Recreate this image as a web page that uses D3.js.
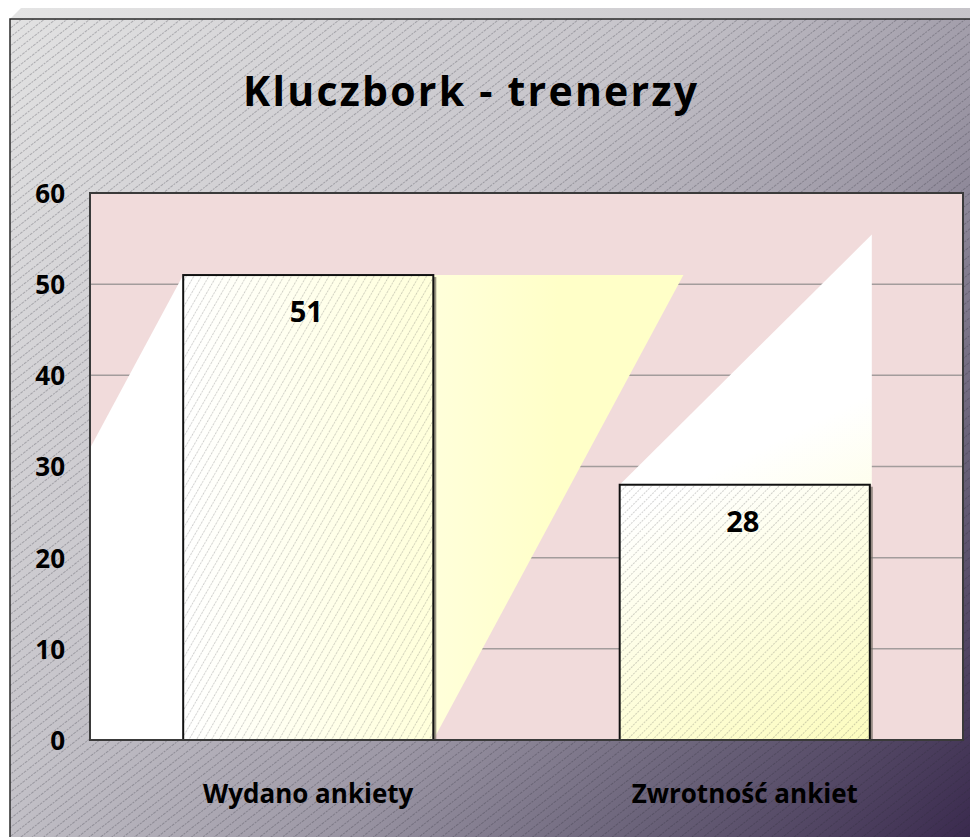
<!DOCTYPE html>
<html>
<head>
<meta charset="utf-8">
<script src="https://cdn.jsdelivr.net/npm/d3@7"></script>
<style>
  body { margin: 0; background: #fff; }
  svg { display: block; }
  text { font-family: "Open Sans", "DejaVu Sans", sans-serif; font-weight: bold; fill: #000; }
</style>
</head>
<body>
<div id="chart"></div>
<script>
const title = "Kluczbork - trenerzy";
const categories = ["Wydano ankiety", "Zwrotność ankiet"];
const values = [51, 28];
const yTicks = [0, 10, 20, 30, 40, 50, 60];

const W = 970, H = 837;
const plot = { left: 90, top: 193, right: 963, bottom: 740 };

const svg = d3.select("#chart").append("svg")
    .attr("width", W)
    .attr("height", H);

const defs = svg.append("defs");

// background gradient (light grey top-left -> dark violet bottom-right)
const bg = defs.append("linearGradient")
    .attr("id", "bgGrad")
    .attr("gradientUnits", "userSpaceOnUse")
    .attr("x1", 0).attr("y1", 0).attr("x2", W).attr("y2", H);
[["0", "#e3e3e3"], ["0.4", "#c6c4ca"], ["0.62", "#9c97a5"], ["0.8", "#6a6279"], ["1", "#3a2a4e"]]
    .forEach(s => bg.append("stop").attr("offset", s[0]).attr("stop-color", s[1]));

const topGrad = defs.append("linearGradient")
    .attr("id", "topGrad")
    .attr("x1", 0).attr("x2", 1).attr("y1", 0).attr("y2", 0);
topGrad.append("stop").attr("offset", 0).attr("stop-color", "#e4e4e4");
topGrad.append("stop").attr("offset", 1).attr("stop-color", "#c6c4c9");

function hatch(id, angle, gap, color) {
    const p = defs.append("pattern")
        .attr("id", id)
        .attr("patternUnits", "userSpaceOnUse")
        .attr("width", gap).attr("height", gap)
        .attr("patternTransform", `rotate(${angle})`);
    p.append("line")
        .attr("x1", 0.5).attr("y1", 0).attr("x2", 0.5).attr("y2", gap)
        .attr("stroke", color)
        .attr("stroke-width", 0.8)
        .attr("stroke-dasharray", "2,1");
}
hatch("bgHatch", 52, 7, "rgba(40,40,50,0.35)");
hatch("barHatch0", 30, 6.5, "rgba(90,90,90,0.35)");
hatch("barHatch1", 45, 6, "rgba(90,90,90,0.35)");

defs.append("clipPath").attr("id", "plotClip")
    .append("rect")
    .attr("x", plot.left).attr("y", plot.top)
    .attr("width", plot.right - plot.left)
    .attr("height", plot.bottom - plot.top);

// outer chart area with 3d top edge
svg.append("polygon")
    .attr("points", `10,19 21,8 ${W + 10},8 ${W + 10},19`)
    .attr("fill", "url(#topGrad)");
svg.append("rect")
    .attr("x", 10).attr("y", 19)
    .attr("width", W + 10).attr("height", H + 10)
    .attr("fill", "url(#bgGrad)");
svg.append("rect")
    .attr("x", 10).attr("y", 19)
    .attr("width", W + 10).attr("height", H + 10)
    .attr("fill", "url(#bgHatch)")
    .attr("stroke", "#2a2a2a")
    .attr("stroke-width", 1.5);

// scales
const x = d3.scaleBand()
    .domain(categories)
    .range([plot.left, plot.right])
    .paddingInner(0.427)
    .paddingOuter(0.2135);

const y = d3.scaleLinear()
    .domain([0, 60])
    .range([plot.bottom, plot.top]);

// plot area
svg.append("rect")
    .attr("x", plot.left).attr("y", plot.top)
    .attr("width", plot.right - plot.left)
    .attr("height", plot.bottom - plot.top)
    .attr("fill", "#f1dbdb");

// gridlines
svg.append("g")
    .selectAll("line")
    .data(yTicks.filter(d => d > 0 && d < 60))
    .enter()
    .append("line")
    .attr("x1", plot.left).attr("x2", plot.right)
    .attr("y1", d => y(d)).attr("y2", d => y(d))
    .attr("stroke", "#a39c9c")
    .attr("stroke-width", 1.5);

const data = categories.map((c, i) => ({ cat: c, value: values[i], i: i }));
const bw = x.bandwidth();

// per-bar gradients
data.forEach(d => {
    const x0 = x(d.cat), x1 = x0 + bw, top = y(d.value);
    const g = defs.append("linearGradient")
        .attr("id", "barGrad" + d.i)
        .attr("gradientUnits", "userSpaceOnUse");
    if (d.i === 0) {
        g.attr("x1", x0).attr("y1", 0).attr("x2", x0 + 1.5 * bw).attr("y2", 0);
        g.append("stop").attr("offset", 0).attr("stop-color", "#ffffff");
        g.append("stop").attr("offset", 1).attr("stop-color", "#ffffc8");
    } else {
        g.attr("x1", x0).attr("y1", top - bw).attr("x2", x1).attr("y2", plot.bottom);
        g.append("stop").attr("offset", 0.45).attr("stop-color", "#ffffff");
        g.append("stop").attr("offset", 1).attr("stop-color", "#fcfcbe");
    }
});

// gradient "glare" shapes behind bars (as rendered in the original)
svg.append("g")
    .attr("clip-path", "url(#plotClip)")
    .selectAll("polygon")
    .data(data)
    .enter()
    .append("polygon")
    .attr("points", d => {
        const x0 = x(d.cat), x1 = x0 + bw, top = y(d.value), bot = y(0);
        if (d.i === 0) {
            return [[x0, top], [x0 + 2 * bw, top], [x1, bot], [x0 - bw, bot]].join(" ");
        }
        return [[x0, top], [x1 + 2, top - bw], [x1 + 2, top]].join(" ");
    })
    .attr("fill", d => `url(#barGrad${d.i})`);

// bar shadows
svg.append("g")
    .selectAll("rect")
    .data(data)
    .enter()
    .append("rect")
    .attr("x", d => x(d.cat) + 3)
    .attr("y", d => y(d.value) + 2)
    .attr("width", bw)
    .attr("height", d => y(0) - y(d.value) - 2)
    .attr("fill", "#6f6a60")
    .attr("opacity", 0.7);

// bars
const bars = svg.append("g");
bars.selectAll(".bar")
    .data(data)
    .enter()
    .append("rect")
    .attr("class", "bar")
    .attr("x", d => x(d.cat))
    .attr("y", d => y(d.value))
    .attr("width", bw)
    .attr("height", d => y(0) - y(d.value))
    .attr("fill", d => `url(#barGrad${d.i})`);
bars.selectAll(".hatch")
    .data(data)
    .enter()
    .append("rect")
    .attr("class", "hatch")
    .attr("x", d => x(d.cat))
    .attr("y", d => y(d.value))
    .attr("width", bw)
    .attr("height", d => y(0) - y(d.value))
    .attr("fill", d => `url(#barHatch${d.i})`)
    .attr("stroke", "#111")
    .attr("stroke-width", 2);

// plot border
svg.append("rect")
    .attr("x", plot.left).attr("y", plot.top)
    .attr("width", plot.right - plot.left)
    .attr("height", plot.bottom - plot.top)
    .attr("fill", "none")
    .attr("stroke", "#3a3a3a")
    .attr("stroke-width", 2);

// value labels
svg.append("g")
    .selectAll("text")
    .data(data)
    .enter()
    .append("text")
    .attr("x", d => x(d.cat) + bw / 2 - 2)
    .attr("y", d => y(d.value) + 47)
    .attr("text-anchor", "middle")
    .style("font-size", "29px")
    .text(d => d.value);

// y axis
const yAxis = svg.append("g")
    .attr("transform", `translate(${plot.left},0)`)
    .call(d3.axisLeft(y).tickValues(yTicks).tickSize(0).tickPadding(25));
yAxis.select(".domain").remove();
yAxis.selectAll("text")
    .attr("dy", "0.36em")
    .style("font-family", "'Open Sans', sans-serif")
    .style("font-weight", "bold")
    .style("font-size", "26px")
    .style("fill", "#000");

// x axis
const xAxis = svg.append("g")
    .attr("transform", `translate(0,${plot.bottom})`)
    .call(d3.axisBottom(x).tickSize(0));
xAxis.select(".domain").remove();
xAxis.selectAll("text")
    .attr("y", 63)
    .attr("dy", 0)
    .style("font-family", "'Open Sans', sans-serif")
    .style("font-weight", "bold")
    .style("font-size", "26px")
    .style("fill", "#000");

// title
svg.append("text")
    .attr("x", 470)
    .attr("y", 106)
    .attr("text-anchor", "middle")
    .attr("textLength", 454)
    .attr("lengthAdjust", "spacing")
    .style("font-size", "41px")
    .text(title);
</script>
</body>
</html>
